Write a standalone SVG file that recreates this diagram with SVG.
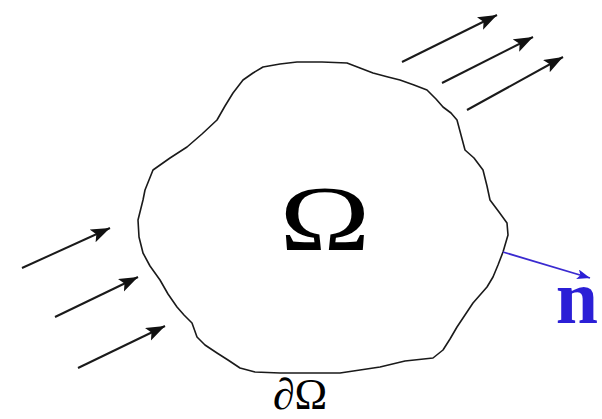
<svg xmlns="http://www.w3.org/2000/svg" width="602" height="419" viewBox="0 0 602 419">
<style>
.outline{fill:none;stroke:#1a1a1a;stroke-width:1.6;stroke-linejoin:round;stroke-linecap:round}
.arr{fill:none;stroke:#1a1a1a;stroke-width:2;marker-end:url(#ah)}
.nrm{fill:none;stroke:#3a2ad0;stroke-width:1.8;marker-end:url(#bh)}
.lbl{font-family:"Liberation Serif","Times New Roman",serif;fill:#000}
</style>
<defs>
<marker id="ah" markerUnits="userSpaceOnUse" markerWidth="22" markerHeight="16" refX="19" refY="7" orient="auto">
<path d="M0,0 L19,7 L0,14 L4,7 Z" fill="#111"/>
</marker>
<marker id="bh" markerUnits="userSpaceOnUse" markerWidth="16" markerHeight="12" refX="13" refY="5" orient="auto">
<path d="M0,0 L13,5 L0,10 L3,5 Z" fill="#2b1fd6"/>
</marker>
</defs>
<g id="domain">
<polyline class="outline" points="263,67 280,64 297,62 322,62 347,63 360,68 373,73 388,77 400,80 414,85 427,90 436,99 443,107 451,113 457,120 461,135 465,150 474,158 483,170 487,186 490,200 499,212 507,223 508,235 503,252 498,265 493,277 487,287 480,295 473,303 465,315 457,327 450,339 443,350 433,358 405,361 380,367 360,370 340,373 310,373 280,373 255,372 240,368 228,360 217,353 205,345 197,337 192,323 184,315 177,307 168,294 160,280 150,266 143,253 139,237 138,220 143,200 145,190 153,170 170,158 187,147 202,134 217,120 225,106 233,93 243,80 253,73 263,67"/>
<text class="lbl" x="0" y="250" font-size="94" text-anchor="middle" transform="translate(325,0) scale(1.3,1)">Ω</text>
</g>
<g id="boundary-label">
<text class="lbl" x="300" y="409" font-size="44" text-anchor="middle">∂Ω</text>
</g>
<g id="normal-label">
<text x="577" y="323" font-size="76" font-weight="bold" text-anchor="middle" font-family="Liberation Serif,'Times New Roman',serif" fill="#2b1fd6">n</text>
</g>
<g id="connectors">
<line class="arr" x1="22" y1="268" x2="110" y2="228"/>
<line class="arr" x1="55" y1="317" x2="138" y2="277"/>
<line class="arr" x1="78" y1="368" x2="165" y2="326"/>
<line class="arr" x1="402" y1="62" x2="497" y2="15"/>
<line class="arr" x1="442" y1="83" x2="533" y2="37"/>
<line class="arr" x1="467" y1="110" x2="563" y2="57"/>
<line class="nrm" x1="503" y1="252" x2="590" y2="278"/>
</g>
</svg>
